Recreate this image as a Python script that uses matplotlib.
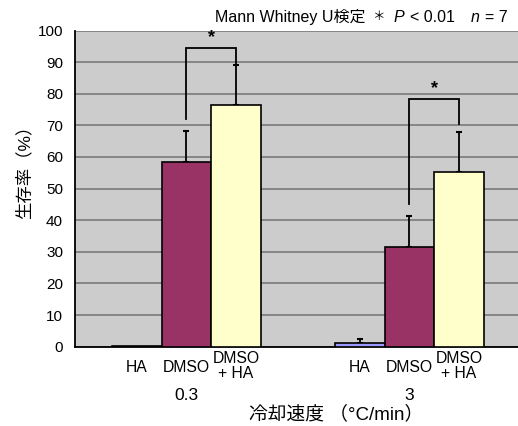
import matplotlib
matplotlib.use("Agg")
import matplotlib.pyplot as plt
from matplotlib import transforms
import numpy as np

plt.rcParams['font.family'] = ['Liberation Sans', 'Noto Sans CJK JP']

# Data
rates = ["0.3", "3"]
treatments = ["HA", "DMSO", "DMSO\n+ HA"]
survival = {
    "HA":        [0.1, 1.1],
    "DMSO":      [58.4, 31.4],
    "DMSO+HA":   [76.3, 55.4],
}
sd = {
    "HA":        [0.0, 1.2],
    "DMSO":      [9.8, 9.9],
    "DMSO+HA":   [12.9, 12.5],
}
series_colors = {"HA": "#9999FF", "DMSO": "#993366", "DMSO+HA": "#FFFFCC"}
y_ticks = list(range(0, 101, 10))

# significance brackets (DMSO vs DMSO+HA): left foot, top, right foot
bracket_left = [72.1, 45.1]
bracket_top = [94.6, 78.2]
bracket_right = [89.2, 70.5]

fig = plt.figure(figsize=(5.18, 4.26), dpi=100)
W, H = 518, 426
ax = fig.add_axes([75 / W, 1 - 346.7 / H, 446 / W, (346.7 - 30.5) / H])
ax.set_facecolor("#CCCCCC")

group_width = 4.5
centers = np.array([group_width / 2, group_width * 1.5])
offsets = [-1, 0, 1]
keys = ["HA", "DMSO", "DMSO+HA"]

for k, off in zip(keys, offsets):
    xs = centers + off
    ax.bar(xs, survival[k], width=1.0, color=series_colors[k],
           edgecolor="black", linewidth=1.2, zorder=3)
    vals = np.array(survival[k])
    errs = np.array(sd[k])
    has = errs > 0
    ax.errorbar(xs[has], vals[has], yerr=[np.zeros(has.sum()), errs[has]],
                fmt="none", ecolor="black", elinewidth=1.3, capsize=2.3,
                capthick=1.5, zorder=2)

# brackets
for i, c in enumerate(centers):
    x0, x1 = c + offsets[1], c + offsets[2]
    ax.plot([x0, x0, x1, x1],
            [bracket_left[i], bracket_top[i], bracket_top[i], bracket_right[i]],
            color="black", linewidth=1.3, zorder=4, solid_joinstyle="miter")
    ax.text((x0 + x1) / 2, bracket_top[i] + 0.6, "*", ha="center", va="bottom",
            fontsize=13, fontweight="bold", zorder=5)

ax.set_xlim(0, group_width * 2)
ax.set_ylim(0, 100)
ax.set_yticks(y_ticks)
ax.tick_params(axis="y", length=0, pad=8.6, labelsize=11)
ax.set_xticks([])
ax.grid(axis="y", color="#808080", linewidth=1.3, zorder=1)
ax.set_axisbelow(True)
for s in ["right", "top"]:
    ax.spines[s].set_visible(False)
ax.spines["left"].set_linewidth(1.3)
ax.spines["bottom"].set_linewidth(1.3)

# x category labels
trans = transforms.blended_transform_factory(ax.transData, fig.transFigure)
for c in centers:
    for lbl, off in zip(treatments, offsets):
        if "\n" in lbl:
            ax.text(c + off, 1 - 366 / H, lbl, transform=trans, ha="center",
                    va="center", fontsize=11.3, linespacing=0.95)
        else:
            ax.text(c + off, 1 - 368 / H, lbl, transform=trans, ha="center",
                    va="center", fontsize=11.3)
for c, r in zip(centers, rates):
    ax.text(c, 1 - 396 / H, r, transform=trans, ha="center", va="center",
            fontsize=12.5)

fig.text(336 / W, 1 - 414 / H, "冷却速度 （°C/min）", ha="center", va="center",
         fontsize=13.5)
fig.text(24 / W, 1 - 168 / H, "生存率（%）", ha="center", va="center",
         fontsize=12.5, rotation=90)

# header: test name and significance note
ty = 1 - 17 / H
fig.text(215 / W, ty, "Mann Whitney U検定", ha="left", va="center", fontsize=11.5)
fig.text(378 / W, ty, "＊", ha="center", va="center", fontsize=9)
fig.text(394 / W, ty, "P", ha="left", va="center", fontsize=11.5, style="italic")
fig.text(410 / W, ty, "< 0.01", ha="left", va="center", fontsize=11.5)
fig.text(471 / W, ty, "n", ha="left", va="center", fontsize=11.5, style="italic")
fig.text(485 / W, ty, "= 7", ha="left", va="center", fontsize=11.5)

fig.savefig("out.png", dpi=100, facecolor="white")
